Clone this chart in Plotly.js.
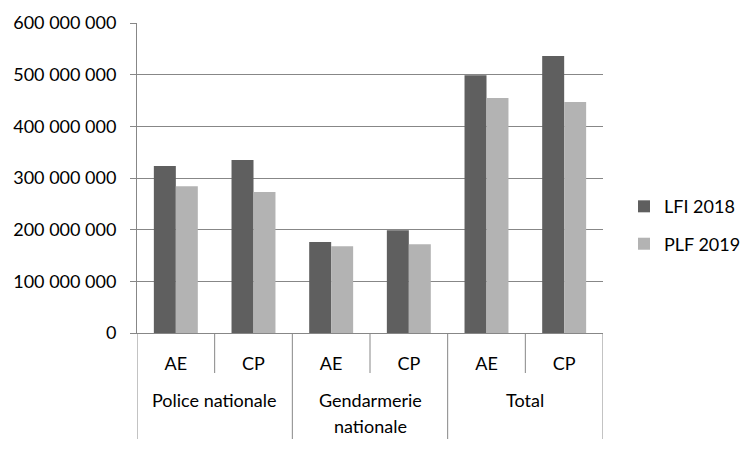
<!DOCTYPE html>
<html>
<head>
<meta charset="utf-8">
<script src="https://cdn.plot.ly/plotly-3.0.1.min.js"></script>
<style>html,body{margin:0;padding:0;background:#fff;}#chart{width:750px;height:450px;}</style>
</head>
<body>
<div id="chart"></div>
<script>
// Data
const groups = ["Police nationale", "Police nationale", "Gendarmerie nationale", "Gendarmerie nationale", "Total", "Total"];
const subs = ["AE", "CP", "AE", "CP", "AE", "CP"];
const groupLabels = ["Police nationale", "Gendarmerie<br>nationale", "Total"];
const lfi2018 = [323000000, 335000000, 176000000, 199000000, 499000000, 536000000];
const plf2019 = [284000000, 273000000, 168000000, 172000000, 455000000, 447000000];
const seriesNames = ["LFI 2018", "PLF 2019"];

const cats = groups.map((g, i) => g + " | " + subs[i]);
const FONT = "Lato, 'Open Sans', sans-serif";
const LINE = "#878787";

const traces = [
  {type: "bar", name: seriesNames[0], x: cats, y: lfi2018, marker: {color: "#5f5f5f"}, legendgroup: "a", hoverinfo: "y"},
  {type: "bar", name: seriesNames[1], x: cats, y: plf2019, marker: {color: "#b3b3b3"}, legendgroup: "b", hoverinfo: "y"}
];

const plotH = 310;
const shapes = [];
// full-height separators between groups (and outer edges)
[-0.5, 1.5, 3.5, 5.5].forEach(v => shapes.push({type: "line", xref: "x", yref: "paper", x0: v, x1: v, y0: 0, y1: -106 / plotH, line: {color: LINE, width: 1}}));
// short separators between AE / CP
[0.5, 2.5, 4.5].forEach(v => shapes.push({type: "line", xref: "x", yref: "paper", x0: v, x1: v, y0: 0, y1: -40 / plotH, line: {color: LINE, width: 1}}));

const annotations = [];
groupLabels.forEach((t, i) => {
  t.split("<br>").forEach((line, j) => {
    annotations.push({
      text: line, xref: "x", yref: "paper", x: 2 * i + 0.5, y: -(67 + 26 * j) / plotH,
      yanchor: "middle", xanchor: "center", showarrow: false,
      font: {family: FONT, size: 18, color: "#000"}
    });
  });
});

const layout = {
  width: 750, height: 450,
  margin: {l: 137, r: 147, t: 23, b: 117, pad: 0, autoexpand: false},
  paper_bgcolor: "#fff", plot_bgcolor: "#fff",
  separators: ", ",
  barmode: "group", bargap: 0.434, bargroupgap: 0,
  showlegend: true,
  legend: {xref: "container", x: 624 / 750, xanchor: "left", y: 0.348, yanchor: "middle", font: {family: FONT, size: 18, color: "#000"}, tracegroupgap: 11, traceorder: "grouped", bgcolor: "rgba(0,0,0,0)"},
  xaxis: {
    type: "category", categoryorder: "array", categoryarray: cats,
    tickmode: "array", tickvals: cats, ticktext: subs,
    ticks: "", showgrid: false, showline: true, linecolor: LINE, linewidth: 1,
    tickfont: {family: FONT, size: 18, color: "#000"}, ticklabelstandoff: 14,
    range: [-0.5, 5.5], fixedrange: true, automargin: false
  },
  yaxis: {
    range: [0, 600000000], dtick: 100000000, tick0: 0, tickformat: ",d",
    showgrid: true, gridcolor: LINE, gridwidth: 1, zeroline: false,
    showline: true, linecolor: LINE, linewidth: 1,
    ticks: "outside", ticklen: 6, tickcolor: LINE, ticklabelstandoff: 10,
    tickfont: {family: FONT, size: 18, color: "#000"}, fixedrange: true, automargin: false
  },
  shapes: shapes,
  annotations: annotations
};

Plotly.newPlot("chart", traces, layout, {displayModeBar: false, staticPlot: true});
</script>
</body>
</html>
